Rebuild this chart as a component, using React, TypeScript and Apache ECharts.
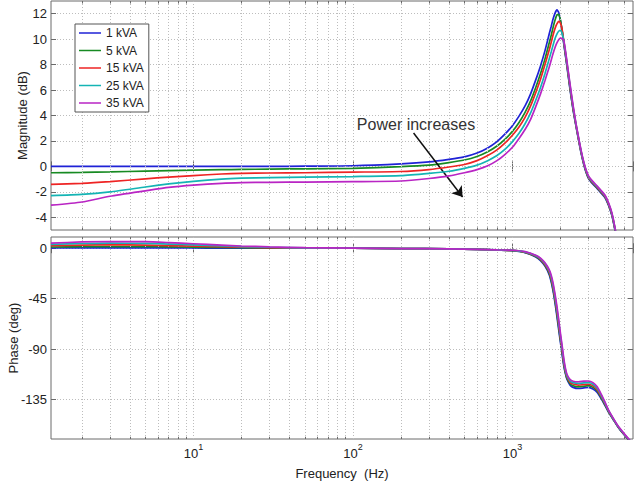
import React, { useEffect, useRef } from 'react';
import * as echarts from 'echarts';

// ---------- data ----------
const SERIES_NAMES = ['1 kVA', '5 kVA', '15 kVA', '25 kVA', '35 kVA'];
const COLORS = ['#1f22d6', '#178a22', '#ee2424', '#14b4b4', '#b925c4'];

const FREQ_MAG = [1.28, 2, 3, 5, 7, 10, 15, 20, 30, 50, 100, 200, 300, 400, 500, 600, 700, 800, 900, 1000,
  1100, 1200, 1300, 1400, 1500, 1600, 1700, 1750, 1800, 1850, 1900, 1950, 2000, 2050, 2100,
  2200, 2300, 2400, 2500, 2600, 2700, 2800, 2900, 3000, 3200, 3400, 3600, 3800, 4000, 4200, 4400, 4600];

const MAG_1KVA = [0.0, 0.0, 0.0, 0.0, 0.0, 0.0, 0.0, 0.0, 0.0, 0.02, 0.05, 0.2, 0.35, 0.55, 0.75, 1.05, 1.45, 1.95, 2.55, 3.2,
  3.95, 4.75, 5.7, 6.8, 7.9, 9.1, 10.4, 11.0, 11.6, 12.05, 12.3, 12.1, 11.45, 10.6, 9.6,
  7.8, 6.0, 4.45, 3.2, 2.05, 1.0, 0.15, -0.5, -0.95, -1.4, -1.75, -2.1, -2.45, -3.05, -3.85, -5.05, -6.4];
const MAG_5KVA = [-0.5, -0.47, -0.43, -0.37, -0.33, -0.29, -0.26, -0.24, -0.21, -0.19, -0.15, -0.02, 0.1, 0.3, 0.5, 0.78, 1.15, 1.6, 2.15, 2.75,
  3.45, 4.25, 5.15, 6.2, 7.3, 8.45, 9.7, 10.3, 10.95, 11.5, 11.9, 11.95, 11.5, 10.65, 9.7,
  7.9, 6.1, 4.5, 3.25, 2.1, 1.05, 0.2, -0.45, -0.9, -1.35, -1.7, -2.05, -2.4, -3.0, -3.8, -5.0, -6.4];
const MAG_15KVA = [-1.42, -1.34, -1.2, -0.98, -0.84, -0.72, -0.6, -0.55, -0.52, -0.5, -0.45, -0.4, -0.25, -0.05, 0.15, 0.45, 0.85, 1.3, 1.85, 2.45,
  3.1, 3.85, 4.75, 5.8, 6.85, 8.0, 9.15, 9.75, 10.35, 10.85, 11.2, 11.4, 11.25, 10.75, 9.8,
  8.0, 6.2, 4.6, 3.3, 2.15, 1.1, 0.25, -0.4, -0.85, -1.3, -1.65, -2.0, -2.35, -2.95, -3.75, -4.95, -6.4];
const MAG_25KVA = [-2.3, -2.2, -2.0, -1.62, -1.38, -1.18, -1.0, -0.93, -0.88, -0.85, -0.8, -0.73, -0.55, -0.38, -0.15, 0.1, 0.45, 0.85, 1.35, 1.95,
  2.6, 3.35, 4.2, 5.2, 6.2, 7.3, 8.45, 9.0, 9.55, 10.05, 10.4, 10.62, 10.7, 10.45, 9.85,
  8.1, 6.3, 4.7, 3.35, 2.2, 1.15, 0.3, -0.35, -0.8, -1.25, -1.6, -1.95, -2.3, -2.9, -3.7, -4.9, -6.4];
const MAG_35KVA = [-3.05, -2.8, -2.35, -1.92, -1.65, -1.47, -1.33, -1.28, -1.25, -1.23, -1.2, -1.15, -0.95, -0.75, -0.5, -0.25, 0.05, 0.45, 0.95, 1.5,
  2.2, 2.9, 3.7, 4.7, 5.7, 6.75, 7.8, 8.35, 8.9, 9.35, 9.7, 9.95, 10.08, 10.05, 9.9,
  8.2, 6.4, 4.8, 3.4, 2.25, 1.2, 0.35, -0.3, -0.75, -1.2, -1.55, -1.9, -2.25, -2.85, -3.65, -4.85, -6.4];

const FREQ_PH = [1.28, 2, 3, 5, 7, 10, 15, 20, 30, 50, 100, 200, 400, 600, 800, 1000,
  1200, 1400, 1500, 1600, 1700, 1750, 1800, 1850, 1900, 1950, 2000, 2050,
  2100, 2150, 2200, 2300, 2400, 2600, 2800, 3000, 3200, 3400, 3600, 3800, 4000, 4300, 4600, 5000, 5400, 5700];

const PH_1KVA = [0.2, 0.3, 0.35, 0.3, 0.25, 0.2, 0.15, 0.1, 0.05, 0.0, 0.0, -0.3, -0.6, -1.0, -1.7, -2.2,
  -3.9, -7.8, -11, -16, -23.5, -30, -38.5, -49, -60.5, -72.5, -84, -95,
  -105, -112, -117, -122, -124, -125, -124.5, -124, -125.5, -128.5, -134, -140, -146, -153, -159.5, -166, -171.5, -174.5];
const PH_5KVA = [1.1, 1.4, 1.5, 1.4, 1.2, 0.95, 0.65, 0.45, 0.3, 0.12, 0.0, -0.3, -0.6, -1.0, -1.65, -2.1,
  -3.7, -7.4, -10.5, -15.2, -22.2, -28.5, -36.8, -47, -58.2, -70.2, -82, -93,
  -103.5, -111, -116, -120.8, -122.5, -123.5, -123, -122.5, -124, -127.3, -133, -139.3, -145.5, -152.8, -159.3, -165.8, -171.3, -174.3];
const PH_15KVA = [2.3, 2.8, 3.0, 2.8, 2.4, 1.9, 1.3, 0.95, 0.55, 0.25, 0.05, -0.3, -0.6, -1.0, -1.6, -2.0,
  -3.5, -7.0, -9.9, -14.5, -21, -27, -35, -45, -56, -68, -80, -91,
  -102, -110, -115, -119.5, -121, -122, -121.5, -121.2, -122.6, -126, -132, -138.5, -145, -152.5, -159, -165.5, -171, -174];
const PH_25KVA = [3.4, 4.2, 4.5, 4.3, 3.7, 3.0, 2.1, 1.5, 0.85, 0.35, 0.1, -0.3, -0.6, -1.0, -1.55, -1.9,
  -3.3, -6.6, -9.3, -13.7, -20, -25.5, -33.2, -43, -53.8, -65.8, -78, -89,
  -100.3, -108.5, -113.8, -118.3, -119.8, -120.5, -120, -119.8, -121.2, -124.8, -131, -137.8, -144.5, -152.2, -158.8, -165.3, -170.8, -173.8];
const PH_35KVA = [4.5, 5.6, 6.0, 5.8, 5.0, 4.0, 2.8, 2.0, 1.2, 0.5, 0.15, -0.3, -0.6, -1.0, -1.5, -1.8,
  -3.1, -6.2, -8.8, -13, -19, -24, -31.3, -41, -51.5, -63.5, -75.8, -87,
  -98.5, -107, -112.5, -117, -118.5, -119, -118.5, -118.3, -119.8, -123.5, -130, -137, -144, -151.8, -158.5, -165, -170.5, -173.5];

const MAG_SERIES = [MAG_1KVA, MAG_5KVA, MAG_15KVA, MAG_25KVA, MAG_35KVA];
const PH_SERIES = [PH_1KVA, PH_5KVA, PH_15KVA, PH_25KVA, PH_35KVA];

const MAG_TICKS = [-4, -2, 0, 2, 4, 6, 8, 10, 12];
const PHASE_TICKS = [-135, -90, -45, 0];
const DECADES = [10, 100, 1000];
const MINOR_FREQS = [2, 3, 4, 5, 6, 7, 8, 9, 20, 30, 40, 50, 60, 70, 80, 90,
  200, 300, 400, 500, 600, 700, 800, 900, 2000, 3000, 4000, 5000];

const X_MIN = 1.28;
const X_MAX = 5700;
const MAG_MIN = -5;
const MAG_MAX = 13;
const PH_MIN = -170;
const PH_MAX = 10;

const ARROW_FROM = [240, 2.62];
const ARROW_TO = [487, -2.41];
const ANNOTATION = 'Power increases';

// ---------- style ----------
const FONT = '"Liberation Sans", Arial, Helvetica, sans-serif';
const TEXT = '#222';
const FRAME = '#6a6a6a';
const GRID_LINE = { color: '#bdbdbd', width: 1, type: [1, 2] as number[] };

function xAxisDef(gridIndex: number, position: string, showLabel: boolean, name?: string) {
  return {
    type: 'log',
    logBase: 10,
    gridIndex,
    position,
    min: X_MIN,
    max: X_MAX,
    axisLine: { show: false },
    axisTick: { show: true, inside: true, length: 5, lineStyle: { color: FRAME } },
    minorTick: { show: false },
    splitLine: { show: false },
    axisLabel: showLabel
      ? {
          show: true,
          margin: 3,
          formatter: (v: number) => {
            const e = Math.log10(v);
            const r = Math.round(e);
            if (Math.abs(e - r) > 1e-6) return '';
            return `{b|10}{s|${r}}`;
          },
          rich: {
            b: { fontSize: 13, color: TEXT, fontFamily: FONT, verticalAlign: 'bottom', lineHeight: 18 },
            s: { fontSize: 9, color: TEXT, fontFamily: FONT, verticalAlign: 'top', lineHeight: 9 },
          },
        }
      : { show: false },
    name: name || '',
    nameLocation: 'middle',
    nameGap: 28,
    nameMoveOverlap: false,
    nameTextStyle: { fontSize: 13, color: TEXT, fontFamily: FONT },
  };
}

function yAxisDef(gridIndex: number, position: string, min: number, max: number, ticks: number[], showLabel: boolean, name: string, nameGap: number) {
  return {
    type: 'value',
    gridIndex,
    position,
    min,
    max,
    axisLine: { show: false },
    axisTick: { show: true, inside: true, length: 5, customValues: ticks, lineStyle: { color: FRAME } },
    axisLabel: showLabel
      ? { show: true, customValues: ticks, fontSize: 13, color: TEXT, fontFamily: FONT, margin: 4 }
      : { show: false },
    splitLine: { show: showLabel, lineStyle: GRID_LINE },
    name,
    nameLocation: 'middle',
    nameGap,
    nameMoveOverlap: false,
    nameTextStyle: { fontSize: 13, color: TEXT, fontFamily: FONT },
  };
}

function gridHelper(axisIndex: number, yMin: number, yMax: number, tickLen: number) {
  const lines: any[] = [...DECADES, ...MINOR_FREQS].map((v) => ({ xAxis: v }));
  const ticks: any[] = [];
  MINOR_FREQS.forEach((v) => {
    ticks.push([
      { coord: [v, yMin], lineStyle: { color: FRAME, type: 'solid', width: 1 } },
      { coord: [v, yMin + tickLen] },
    ]);
    ticks.push([
      { coord: [v, yMax], lineStyle: { color: FRAME, type: 'solid', width: 1 } },
      { coord: [v, yMax - tickLen] },
    ]);
  });
  return {
    type: 'line',
    name: 'grid' + axisIndex,
    xAxisIndex: axisIndex,
    yAxisIndex: axisIndex,
    data: [],
    silent: true,
    z: 1,
    markLine: {
      silent: true,
      symbol: ['none', 'none'],
      label: { show: false },
      lineStyle: GRID_LINE,
      emphasis: { disabled: true },
      data: [...lines, ...ticks],
    },
  };
}

export default function App() {
  const ref = useRef<HTMLDivElement>(null);

  useEffect(() => {
    if (!ref.current) return;
    const chart = echarts.init(ref.current, undefined, { renderer: 'svg' });

    const magSeries = MAG_SERIES.map((vals, i) => ({
      type: 'line',
      name: SERIES_NAMES[i],
      xAxisIndex: 0,
      yAxisIndex: 0,
      data: FREQ_MAG.map((f, k) => [f, vals[k]]),
      symbol: 'none',
      smooth: 0.2,
      lineStyle: { color: COLORS[i], width: 1.7 },
      itemStyle: { color: COLORS[i] },
      z: 3 + i,
    }));
    const phSeries = PH_SERIES.map((vals, i) => ({
      type: 'line',
      name: SERIES_NAMES[i],
      xAxisIndex: 2,
      yAxisIndex: 2,
      data: FREQ_PH.map((f, k) => [f, vals[k]]),
      symbol: 'none',
      smooth: 0.2,
      lineStyle: { color: COLORS[i], width: 1.7 },
      itemStyle: { color: COLORS[i] },
      z: 3 + i,
    }));

    const option: any = {
      animation: false,
      backgroundColor: '#ffffff',
      textStyle: { fontFamily: FONT },
      grid: [
        { left: 51, top: 1, width: 582, height: 229, show: true, borderColor: FRAME, borderWidth: 1, backgroundColor: '#fff', containLabel: false, outerBoundsMode: 'none' },
        { left: 51, top: 237, width: 582, height: 202, show: true, borderColor: FRAME, borderWidth: 1, backgroundColor: '#fff', containLabel: false, outerBoundsMode: 'none' },
      ],
      xAxis: [
        xAxisDef(0, 'bottom', false),
        xAxisDef(0, 'top', false),
        xAxisDef(1, 'bottom', true, 'Frequency  (Hz)'),
        xAxisDef(1, 'top', false),
      ],
      yAxis: [
        yAxisDef(0, 'left', MAG_MIN, MAG_MAX, MAG_TICKS, true, 'Magnitude (dB)', 22),
        yAxisDef(0, 'right', MAG_MIN, MAG_MAX, MAG_TICKS, false, '', 0),
        yAxisDef(1, 'left', PH_MIN, PH_MAX, PHASE_TICKS, true, 'Phase (deg)', 31),
        yAxisDef(1, 'right', PH_MIN, PH_MAX, PHASE_TICKS, false, '', 0),
      ],
      legend: {
        data: SERIES_NAMES,
        orient: 'vertical',
        left: 75,
        top: 24,
        icon: 'rect',
        itemWidth: 22,
        itemHeight: 1.5,
        itemGap: 5.5,
        padding: [3, 5, 3, 4],
        backgroundColor: '#fff',
        borderColor: '#555',
        borderWidth: 1,
        borderRadius: 0,
        selectedMode: false,
        textStyle: { fontSize: 12, color: TEXT, fontFamily: FONT },
        z: 10,
      },
      graphic: [
        {
          type: 'text',
          x: 416,
          y: 124,
          z: 20,
          style: {
            text: ANNOTATION,
            fontSize: 16,
            fontFamily: FONT,
            fill: '#333',
            align: 'center',
            verticalAlign: 'middle',
            textAlign: 'center',
            textVerticalAlign: 'middle',
          },
        },
      ],
      series: [
        gridHelper(0, MAG_MIN, MAG_MAX, 0.2),
        gridHelper(2, PH_MIN, PH_MAX, 2.0),
        ...magSeries,
        ...phSeries,
        {
          type: 'line',
          name: 'annotation',
          xAxisIndex: 0,
          yAxisIndex: 0,
          data: [],
          silent: true,
          z: 12,
          markLine: {
            silent: true,
            symbol: ['none', 'arrow'],
            symbolSize: 10,
            label: { show: false },
            lineStyle: { color: '#111', width: 1.5, type: 'solid' },
            data: [[{ coord: ARROW_FROM }, { coord: ARROW_TO }]],
          },
        },
      ],
    };

    chart.setOption(option);
    return () => chart.dispose();
  }, []);

  return (
    <div
      ref={ref}
      style={{ position: 'absolute', left: 0, top: 0, width: 634, height: 483, background: '#fff' }}
    />
  );
}
